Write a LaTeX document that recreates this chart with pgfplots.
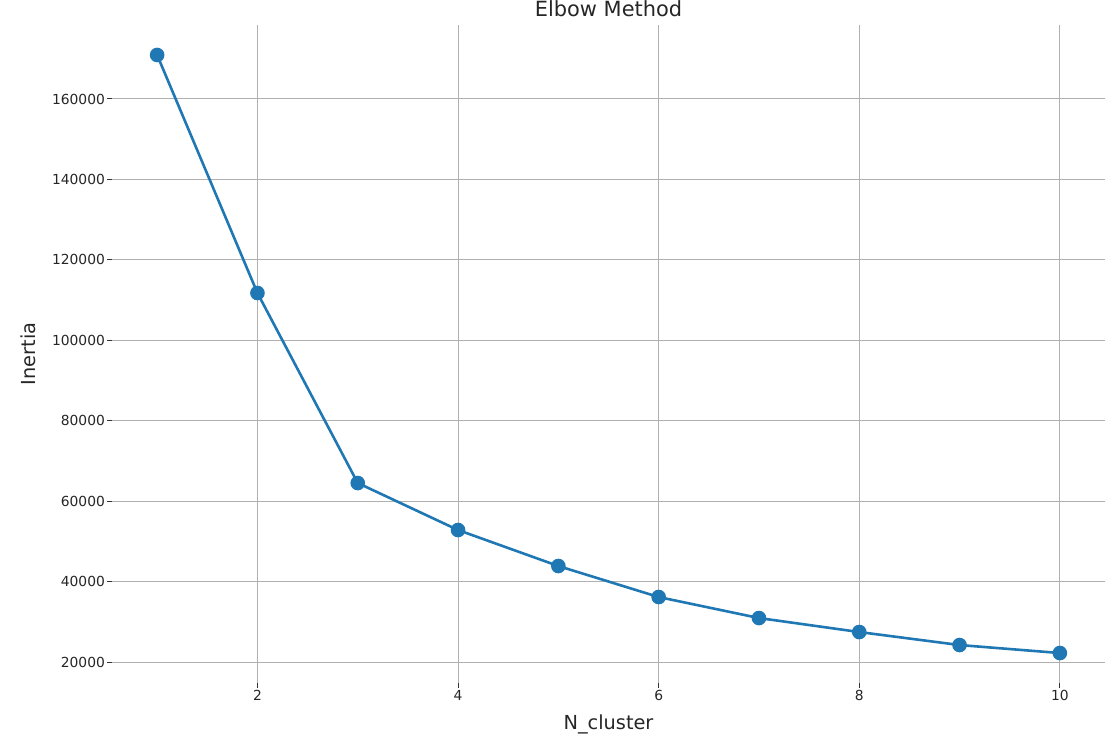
\documentclass[border=0pt]{standalone}
\usepackage{fontspec}
\setmainfont{DejaVu Sans}
\usepackage{pgfplots}
\pgfplotsset{compat=1.18}
\definecolor{mplblue}{HTML}{1F77B4}
\definecolor{gridgray}{HTML}{B0B0B0}
\begin{document}
\begin{tikzpicture}
\path[use as bounding box] (-112bp,-61bp) rectangle (1008bp,683bp);
\begin{axis}[
  at={(0,0)}, anchor=south west,
  scale only axis,
  width=993bp, height=658bp,
  xmin=0.55, xmax=10.45,
  ymin=14788, ymax=178400,
  axis x line*=bottom, axis y line*=left,
  axis line style={draw=none},
  xtick={2,4,6,8,10},
  ytick={20000,40000,60000,80000,100000,120000,140000,160000},
  scaled y ticks=false,
  /pgf/number format/fixed,
  /pgf/number format/precision=0,
  /pgf/number format/1000 sep={},
  /pgf/number format/assume math mode=true,
  tick align=outside,
  major tick length=4.9bp,
  tick style={black!80, line width=1bp},
  grid=major,
  major grid style={gridgray, line width=1bp},
  ticklabel style={font=\fontsize{13.9}{16}\selectfont, text=black!85},
  xticklabel style={inner sep=2bp},
  yticklabel style={inner sep=2bp},
  xlabel={N\_cluster},
  ylabel={Inertia},
  label style={font=\fontsize{19.4}{22}\selectfont, text=black!85},
  xlabel style={at={(axis description cs:0.5,-0.0623)}, anchor=center},
  ylabel style={at={(axis description cs:-0.0846,0.5)}, anchor=center, rotate=0},
  title={Elbow Method},
  title style={font=\fontsize{21}{24}\selectfont, text=black!85, at={(axis description cs:0.5,1)}, anchor=base, yshift=3bp},
]
\addplot[color=mplblue, line width=2.6bp, mark=*, mark size=6bp, mark options={fill=mplblue, draw=none}]
coordinates {
(1,170940) (2,111760) (3,64511) (4,52824) (5,43872)
(6,36163) (7,30941) (8,27460) (9,24227) (10,22238)
};
\end{axis}
\end{tikzpicture}
\end{document}
